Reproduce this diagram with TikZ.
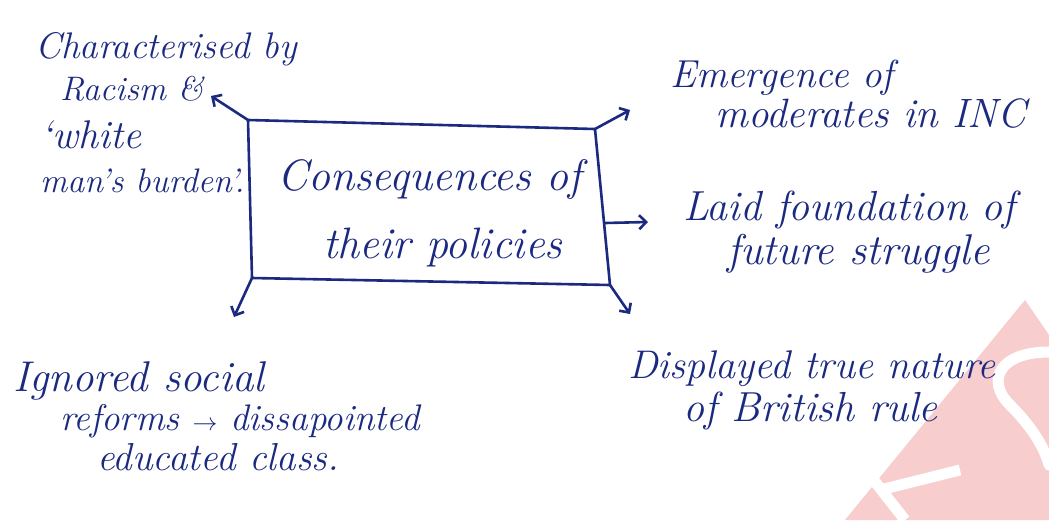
\documentclass[tikz,border=0pt]{standalone}
\usetikzlibrary{arrows.meta}
\definecolor{ink}{HTML}{1B2A80}
\definecolor{wm}{HTML}{F7CDCD}
\begin{document}
\begin{tikzpicture}[x=1pt,y=-1pt,
  hand/.style={text=ink, font=\fontsize{#1}{#1}\selectfont\itshape, inner sep=0pt, anchor=base west},
  edge/.style={draw=ink, line width=2.6pt, line cap=round, line join=round},
  arr/.style={edge, -{Straight Barb[length=7pt,width=14pt,line width=2.6pt]}}]
\useasboundingbox (0,0) rectangle (1049,520);
\fill[white] (0,0) rectangle (1049,520);

% faint logo mark in the lower right corner
\fill[wm] (1025,300) -- (845,520) -- (1049,520) -- (1049,335) -- cycle;
\draw[white, line width=11pt, line cap=round] (1049,352) .. controls (1000,352) and (985,380) .. (1010,405) .. controls (1035,430) and (1045,450) .. (1049,465);
\draw[white, line width=11pt] (872,478) -- (905,520);
\draw[white, line width=11pt] (880,490) -- (960,470);

% central box
\coordinate (tl) at (248,120);
\coordinate (tr) at (595,129);
\coordinate (br) at (610,285);
\coordinate (bl) at (252,278);
\coordinate (rm) at (605,223);
\draw[edge] (tl) -- (tr) -- (br) -- (bl) -- cycle;
\node[hand=44] (c1) at (277,190) {Consequences of};
\node[hand=44] (c2) at (323,258) {their policies};

% arrow ends
\coordinate (atl) at (211,96);
\coordinate (atr) at (630,110);
\coordinate (arm) at (648,222);
\coordinate (abr) at (630,314);
\coordinate (abl) at (234,317);
\draw[arr] (tl) -- (atl);
\draw[arr] (tr) -- (atr);
\draw[arr] (rm) -- (arm);
\draw[arr] (br) -- (abr);
\draw[arr] (bl) -- (abl);

% top left
\node[hand=37] (r1) at (35,58) {Characterised by};
\node[hand=34] (r2) at (60,100) {Racism \&};
\node[hand=40] (r3) at (40,148) {‘white};
\node[hand=34] (r4) at (40,192) {man’s burden’.};

% top right
\node[hand=39] (e1) at (670,87) {Emergence of};
\node[hand=41] (e2) at (715,127) {moderates in INC};

% right
\node[hand=42] (f1) at (683,220) {Laid foundation of};
\node[hand=43] (f2) at (727,264) {future struggle};

% bottom left
\node[hand=43] (g1) at (13,391) {Ignored social};
\node[hand=37] (g2) at (60,430) {reforms $\rightarrow$ dissapointed};
\node[hand=39] (g3) at (97,470) {educated class.};

% bottom right
\node[hand=40] (d1) at (628,378) {Displayed true nature};
\node[hand=42] (d2) at (683,421) {of British rule};
\end{tikzpicture}
\end{document}
